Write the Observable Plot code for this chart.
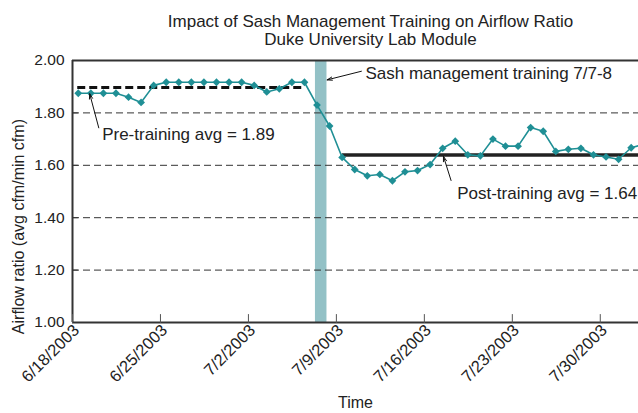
<!DOCTYPE html>
<html><head><meta charset="utf-8">
<script src="https://cdn.jsdelivr.net/npm/d3@7"></script>
<script src="https://cdn.jsdelivr.net/npm/@observablehq/plot@0.6"></script>
<style>body{margin:0;background:#fff}</style>
</head><body><div id="chart"></div>
<script>
const titleLines = ["Impact of Sash Management Training on Airflow Ratio", "Duke University Lab Module"];
const dates = ["2003-06-18","2003-06-19","2003-06-20","2003-06-21","2003-06-22","2003-06-23","2003-06-24","2003-06-25","2003-06-26","2003-06-27","2003-06-28","2003-06-29","2003-06-30","2003-07-01","2003-07-02","2003-07-03","2003-07-04","2003-07-05","2003-07-06","2003-07-07","2003-07-08","2003-07-09","2003-07-10","2003-07-11","2003-07-12","2003-07-13","2003-07-14","2003-07-15","2003-07-16","2003-07-17","2003-07-18","2003-07-19","2003-07-20","2003-07-21","2003-07-22","2003-07-23","2003-07-24","2003-07-25","2003-07-26","2003-07-27","2003-07-28","2003-07-29","2003-07-30","2003-07-31","2003-08-01","2003-08-02"];
const ratios = [1.875,1.875,1.875,1.875,1.86,1.84,1.905,1.917,1.917,1.917,1.917,1.917,1.917,1.917,1.905,1.88,1.892,1.917,1.917,1.83,1.75,1.63,1.584,1.56,1.565,1.541,1.575,1.58,1.603,1.665,1.692,1.64,1.636,1.70,1.673,1.673,1.744,1.73,1.653,1.661,1.665,1.64,1.632,1.623,1.667,1.68];
const xTickDates = ["2003-06-18","2003-06-25","2003-07-02","2003-07-09","2003-07-16","2003-07-23","2003-07-30"];
const yTicks = [1.0,1.2,1.4,1.6,1.8,2.0];
const gridValues = [1.2,1.4,1.6,1.8];
const xDomain = ["2003-06-18T00:00Z","2003-08-02T01:00Z"];
const yDomain = [1, 2];
const training = [{start:"2003-07-07T08:00Z", end:"2003-07-08T06:00Z"}];
const averages = [
  {name:"pre", start:"2003-06-18T10:00Z", end:"2003-07-06T07:00Z", value:1.897},
  {name:"post", start:"2003-07-09T11:00Z", end:"2003-08-03T00:00Z", value:1.639}
];
const labels = [
  {text:"Pre-training avg = 1.89", x:"2003-06-20T08:40Z", y:1.718},
  {text:"Sash management training 7/7-8", x:"2003-07-11T07:25Z", y:1.949},
  {text:"Post-training avg = 1.64", x:"2003-07-18T14:40Z", y:1.492}
];
const arrows = [
  {x1:"2003-06-20T02:10Z", y1:1.743, x2:"2003-06-19T08:50Z", y2:1.873},
  {x1:"2003-07-10T23:45Z", y1:1.959, x2:"2003-07-08T06:15Z", y2:1.926},
  {x1:"2003-07-18T03:00Z", y1:1.542, x2:"2003-07-17T12:30Z", y2:1.634}
];
const xLabel = "Time";
const yLabel = "Airflow ratio (avg cfm/min cfm)";
const yLabelCenter = 1.366;

const P = s => new Date(s.length === 10 ? s + "T00:00Z" : s);
const HOUR = 3600e3;
const series = dates.map((d, i) => ({date: new Date(P(d).getTime() + 11 * HOUR), value: ratios[i]}));
const fmt = d3.utcFormat("%-m/%-d/%Y");
const lineColor = "#1f8f95";
const tickShape = {draw(c, l) { c.moveTo(0, 0); c.lineTo(0, -l); }};
const font = "'Liberation Sans', Arial, Helvetica, sans-serif";

const chart = Plot.plot({
  width: 638, height: 413,
  marginLeft: 72, marginRight: 0, marginTop: 60, marginBottom: 91,
  style: {fontFamily: font, fontSize: "15px", color: "#222", background: "#fff"},
  x: {type: "utc", domain: xDomain.map(P)},
  y: {domain: yDomain},
  marks: [
    Plot.rectX(training, {x1: d => P(d.start), x2: d => P(d.end), y1: yDomain[0], y2: yDomain[1], fill: "#93c1c6"}),
    Plot.ruleY(gridValues, {stroke: "#333", strokeWidth: 1, strokeDasharray: "7,4"}),
    Plot.ruleY([yDomain[1]], {stroke: "#333", strokeWidth: 2.2}),
    Plot.ruleY([yDomain[0]], {stroke: "#333", strokeWidth: 2}),
    Plot.ruleX([P(xDomain[0])], {stroke: "#333", strokeWidth: 2}),
    Plot.vector(xTickDates, {x: d => P(d), frameAnchor: "bottom", length: 8, anchor: "start", shape: tickShape, stroke: "#555", strokeWidth: 1}),
    Plot.vector(yTicks.slice(1, -1), {y: d => d, frameAnchor: "left", rotate: 90, length: 5, anchor: "start", shape: tickShape, stroke: "#333", strokeWidth: 1}),
    Plot.ruleY(averages.filter(d => d.name === "pre"), {x1: d => P(d.start), x2: d => P(d.end), y: "value", stroke: "#111", strokeWidth: 3, strokeDasharray: "8,4"}),
    Plot.ruleY(averages.filter(d => d.name === "post"), {x1: d => P(d.start), x2: d => P(d.end), y: "value", stroke: "#222", strokeWidth: 3.5, clip: true}),
    Plot.line(series, {x: "date", y: "value", stroke: lineColor, strokeWidth: 1.6, clip: true}),
    Plot.dot(series, {x: "date", y: "value", symbol: "diamond2", r: 3.5, fill: lineColor, stroke: "none", clip: true}),
    Plot.arrow(arrows, {x1: d => P(d.x1), y1: "y1", x2: d => P(d.x2), y2: "y2", stroke: "#111", strokeWidth: 1, headLength: 8, headAngle: 35}),
    Plot.text(labels, {x: d => P(d.x), y: "y", text: "text", textAnchor: "start", lineAnchor: "middle", fontSize: 17, fill: "#222"}),
    Plot.axisY({ticks: yTicks, tickFormat: d3.format(".2f"), tickSize: 0, tickPadding: 8, fontSize: 15.5, label: null}),
    Plot.axisX({ticks: xTickDates.map(P), tickFormat: fmt, tickSize: 0, tickPadding: 5, tickRotate: -45, fontSize: 16.5, dx: 4, label: null}),
    Plot.text([yLabel], {x: () => P(xDomain[0]), y: () => yLabelCenter, rotate: -90, dx: -54, fontSize: 16, fill: "#222", lineAnchor: "middle"}),
    Plot.text([xLabel], {frameAnchor: "bottom", dy: 80, fontSize: 16, fill: "#222", lineAnchor: "middle"}),
    Plot.text(titleLines, {frameAnchor: "top", dx: 15, fontSize: 17, fill: "#222", lineAnchor: "middle", filter: (d, i) => i === 0, dy: -39}),
    Plot.text(titleLines, {frameAnchor: "top", dx: 15, fontSize: 17, fill: "#222", lineAnchor: "middle", filter: (d, i) => i === 1, dy: -20.5})
  ]
});
document.getElementById("chart").appendChild(chart);
</script>
</body></html>
